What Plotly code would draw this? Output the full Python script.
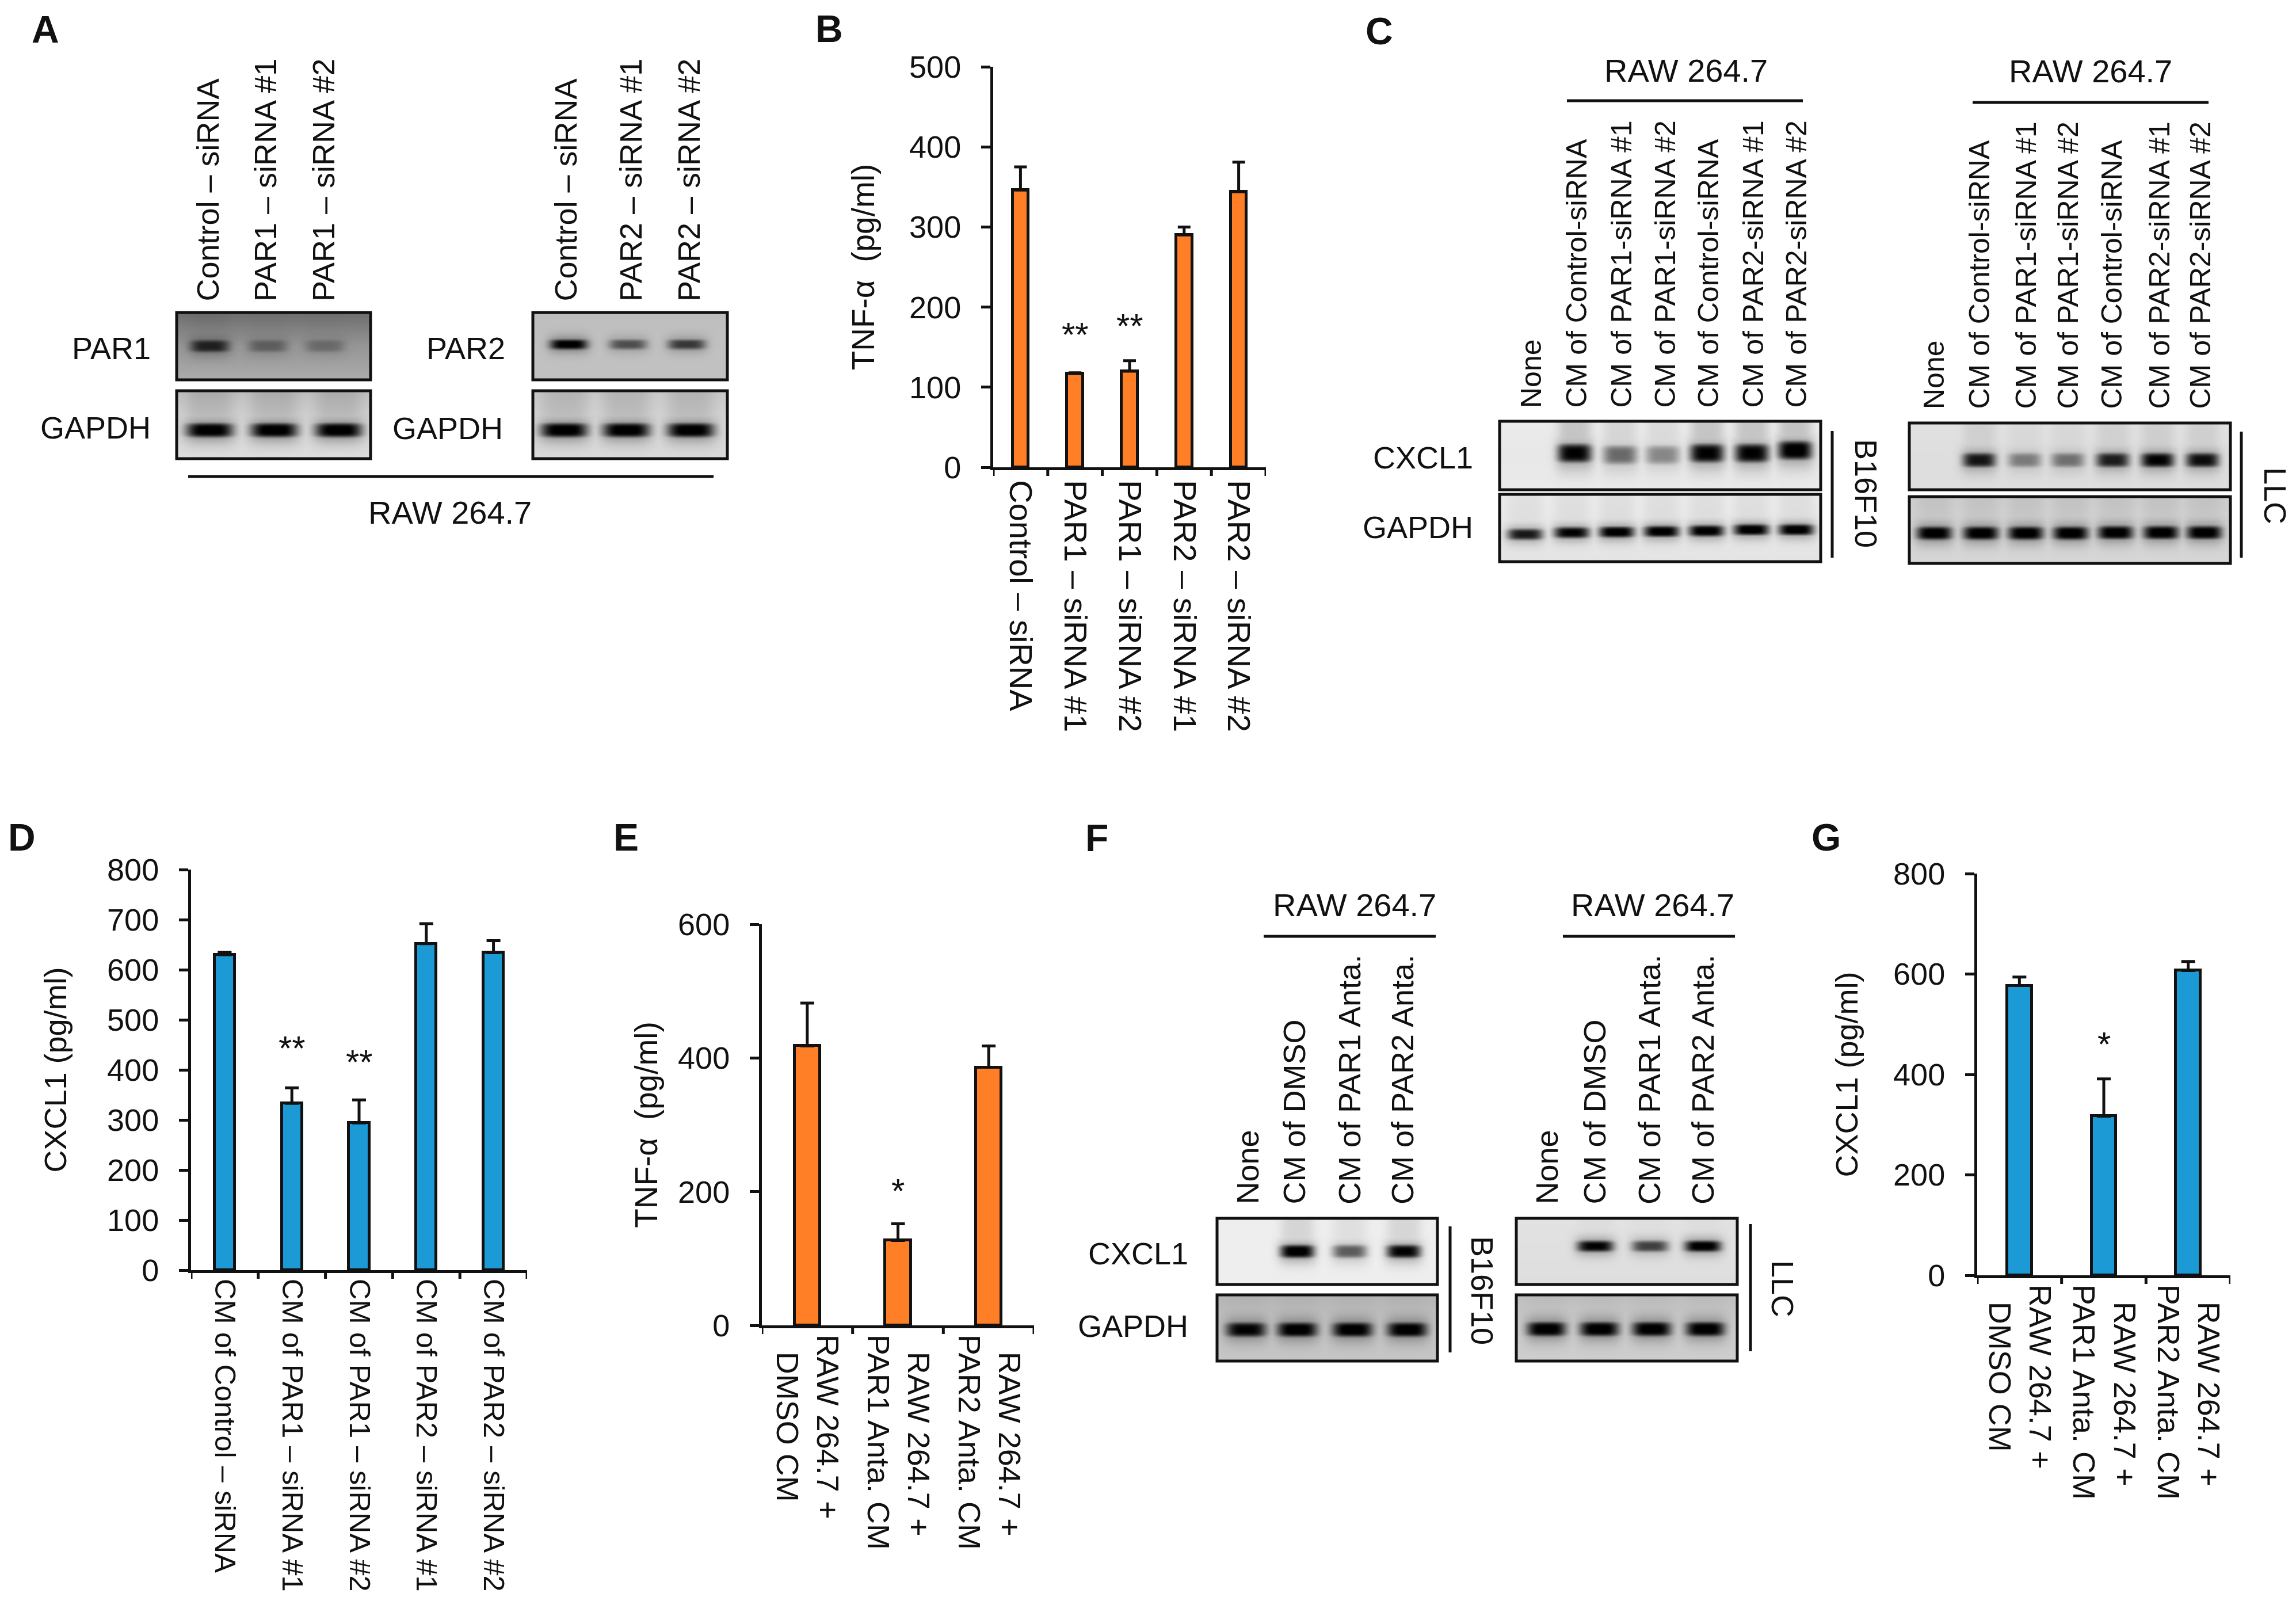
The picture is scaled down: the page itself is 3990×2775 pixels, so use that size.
import plotly.graph_objects as go
from math import exp

W, H = 3990, 2775
FONT = "Liberation Sans"
INK = "#111111"
ORANGE = "#FF7F27"
BLUE = "#1B9AD6"
NB = "\u00a0\u00a0"

# ---------- bar chart data ----------
b_labels = ["Control – siRNA", "PAR1 – siRNA #1", "PAR1 – siRNA #2", "PAR2 – siRNA #1", "PAR2 – siRNA #2"]
b_values = [346, 117, 120, 290, 344]
b_errors = [29, 1, 13, 10, 37]

d_labels = ["CM of Control – siRNA", "CM of PAR1 – siRNA #1", "CM of PAR1 – siRNA #2", "CM of PAR2 – siRNA #1", "CM of PAR2 – siRNA #2"]
d_values = [630, 333, 294, 652, 634]
d_errors = [5, 31, 46, 40, 24]

e_labels = ["RAW 264.7 +<br>" + NB + "DMSO CM", NB + "RAW 264.7 +<br>PAR1 Anta. CM", NB + "RAW 264.7 +<br>PAR2 Anta. CM"]
e_values = [418, 127, 386]
e_errors = [64, 25, 32]

g_labels = ["RAW 264.7 +<br>" + NB + "DMSO CM", NB + "RAW 264.7 +<br>PAR1 Anta. CM", NB + "RAW 264.7 +<br>PAR2 Anta. CM"]
g_values = [577, 317, 607]
g_errors = [17, 74, 18]

# ---------- gel band intensities, read per lane ----------
a_par1 = [0.80, 0.38, 0.30]
a_par1_gapdh = [1.05, 1.05, 1.05]
a_par2 = [1.05, 0.60, 0.72]
a_par2_gapdh = [1.05, 1.05, 1.05]
c_b16_cxcl1 = [0.0, 1.0, 0.55, 0.42, 1.0, 1.0, 1.05]
c_b16_gapdh = [0.9, 1.0, 1.05, 1.05, 1.05, 1.05, 1.05]
c_llc_cxcl1 = [0.0, 0.92, 0.45, 0.50, 0.88, 1.0, 0.95]
c_llc_gapdh = [1.05, 1.05, 1.05, 1.05, 1.05, 1.05, 1.05]
f_b16_cxcl1 = [0.0, 1.05, 0.62, 1.0]
f_b16_gapdh = [1.0, 1.05, 1.05, 1.05]
f_llc_cxcl1 = [0.0, 1.0, 0.72, 1.05]
f_llc_gapdh = [1.05, 1.05, 1.05, 1.05]

a1_text = ["Control – siRNA", "PAR1 – siRNA #1", "PAR1 – siRNA #2"]
a2_text = ["Control – siRNA", "PAR2 – siRNA #1", "PAR2 – siRNA #2"]
c_text = ["None", "CM of Control-siRNA", "CM of PAR1-siRNA #1", "CM of PAR1-siRNA #2",
          "CM of Control-siRNA", "CM of PAR2-siRNA #1", "CM of PAR2-siRNA #2"]
f_text = ["None", "CM of DMSO", "CM of PAR1 Anta.", "CM of PAR2 Anta."]

# ---------- layout of gels: box, lane positions, band row, band size, background ----------
gels = [
    dict(box=(307, 543, 644, 660), v=a_par1, xs=[364, 465, 564], ys=[601]*3, hw=34, th=11, bg=(110, 150, 172), smear=0.05),
    dict(box=(307, 679, 644, 797), v=a_par1_gapdh, xs=[364, 476, 588], ys=[747]*3, hw=41, th=13, bg=(190, 215, 222), smear=0.10),
    dict(box=(926, 543, 1264, 660), v=a_par2, xs=[988, 1091, 1193], ys=[598]*3, hw=33, th=9, bg=(190, 193, 193), smear=0.0),
    dict(box=(926, 679, 1264, 797), v=a_par2_gapdh, xs=[980, 1088, 1200], ys=[747]*3, hw=41, th=13, bg=(200, 215, 218), smear=0.10),
    dict(box=(2606, 732, 3164, 851), v=c_b16_cxcl1, xs=[2650, 2736, 2815, 2889, 2966, 3044, 3119], ys=[787, 787, 790, 790, 787, 787, 782], hw=30, th=17, bg=(235, 232, 234), smear=0.16),
    dict(box=(2606, 859, 3164, 976), v=c_b16_gapdh, xs=[2650, 2731, 2809, 2887, 2965, 3043, 3121], ys=[928, 925, 924, 923, 922, 920, 920], hw=31, th=10, bg=(235, 232, 228), smear=0.05),
    dict(box=(3318, 735, 3876, 851), v=c_llc_cxcl1, xs=[3361, 3439, 3518, 3593, 3671, 3749, 3827], ys=[799]*7, hw=29, th=13, bg=(225, 222, 222), smear=0.08),
    dict(box=(3318, 863, 3876, 979), v=c_llc_gapdh, xs=[3361, 3442, 3520, 3598, 3676, 3755, 3830], ys=[926, 926, 926, 926, 925, 925, 925], hw=31, th=12, bg=(205, 212, 215), smear=0.05),
    dict(box=(2115, 2117, 2498, 2232), v=f_b16_cxcl1, xs=[2165, 2254, 2345, 2439], ys=[2174]*4, hw=30, th=12, bg=(238, 238, 238), smear=0.10),
    dict(box=(2115, 2250, 2498, 2365), v=f_b16_gapdh, xs=[2165, 2254, 2350, 2445], ys=[2310]*4, hw=35, th=13, bg=(180, 196, 198), smear=0.02),
    dict(box=(2635, 2117, 3019, 2232), v=f_llc_cxcl1, xs=[2687, 2772, 2867, 2959], ys=[2165]*4, hw=32, th=10, bg=(226, 224, 222), smear=0.02),
    dict(box=(2635, 2250, 3019, 2365), v=f_llc_gapdh, xs=[2687, 2779, 2870, 2963], ys=[2309]*4, hw=34, th=13, bg=(190, 204, 206), smear=0.02),
]


def gel_matrix(g):
    x0, y0, x1, y1 = g["box"]
    step = 3
    cols = range(x0, x1 + 1, step)
    rows = range(y0, y1 + 1, step)
    top, mid, bot = g["bg"]
    z = []
    for ypx in rows:
        t = (ypx - y0) / (y1 - y0)
        base = top + (mid - top) * t * 2 if t < 0.5 else mid + (bot - mid) * (t - 0.5) * 2
        row = []
        for xpx in cols:
            dark = 0.0
            for val, xc, yc in zip(g["v"], g["xs"], g["ys"]):
                px = exp(-((xpx - xc) / g["hw"]) ** 4)
                py = exp(-((ypx - yc) / g["th"]) ** 4)
                halo = exp(-((xpx - xc) / (g["hw"] * 1.1)) ** 4) * exp(-((ypx - yc) / (g["th"] * 1.7)) ** 2)
                dark = max(dark, val * px * py, 0.35 * val * halo)
                if ypx < yc and val > 0:
                    dark = max(dark, g["smear"] * val * px)
            row.append(max(0, base * (1 - min(dark, 1))))
        z.append(row)
    return z


fig = go.Figure()

# ---------- gels on a full-figure axis ----------
shapes = []
for g in gels:
    x0, y0, x1, y1 = g["box"]
    fig.add_trace(go.Heatmap(z=gel_matrix(g), x0=x0, dx=3, y0=y0, dy=3, xaxis="x5", yaxis="y5",
                             zmin=0, zmax=255, zsmooth="best", showscale=False, hoverinfo="skip",
                             colorscale=[[0, "#000000"], [1, "#ffffff"]]))
    shapes.append(dict(type="rect", xref="x5", yref="y5", x0=x0, y0=y0, x1=x1, y1=y1,
                       line=dict(color="#111111", width=5), fillcolor="rgba(0,0,0,0)"))


def seg(x0, y0, x1, y1, width=5):
    shapes.append(dict(type="line", xref="x5", yref="y5", x0=x0, y0=y0, x1=x1, y1=y1,
                       line=dict(color="#111111", width=width)))


for s in [(327, 828, 1240, 828), (2723, 175, 3133, 175), (3428, 178, 3838, 178),
          (2196, 1627, 2495, 1627), (2716, 1627, 3015, 1627),
          (3184, 749, 3184, 969), (3895, 750, 3895, 969),
          (2520, 2131, 2520, 2350), (3042, 2127, 3042, 2348)]:
    seg(*s)

# ---------- bar panels ----------
TNF = "TNF-α\u00a0\u00a0(pg/ml)"
panels = [
    dict(n="", box=(1726, 116, 2200, 812), labels=b_labels, v=b_values, e=b_errors, c=ORANGE, ymax=500, dt=100,
         title=TNF, tsize=55, so=44, w=0.29, cap=11, xfont=56, xoff=6),
    dict(n="2", box=(332, 1511, 916, 2207), labels=d_labels, v=d_values, e=d_errors, c=BLUE, ymax=800, dt=100,
         title="CXCL1 (pg/ml)", tsize=54, so=55, w=0.30, cap=12, xfont=50.5, xoff=0),
    dict(n="3", box=(1324, 1606, 1797, 2303), labels=e_labels, v=e_values, e=e_errors, c=ORANGE, ymax=600, dt=200,
         title=TNF, tsize=55, so=19, w=0.28, cap=12, xfont=54, xoff=0),
    dict(n="4", box=(3436, 1518, 3876, 2216), labels=g_labels, v=g_values, e=g_errors, c=BLUE, ymax=800, dt=200,
         title="CXCL1 (pg/ml)", tsize=54, so=46, w=0.29, cap=12, xfont=54, xoff=0),
]

layout_axes = {}
for p in panels:
    x0, y0, x1, y1 = p["box"]
    fig.add_trace(go.Bar(x=list(range(len(p["v"]))), y=p["v"], width=p["w"],
                         marker=dict(color=p["c"], line=dict(color="#111111", width=5)),
                         error_y=dict(type="data", symmetric=False, array=p["e"], arrayminus=[0]*len(p["e"]),
                                      color="#111111", thickness=5, width=p["cap"]),
                         xaxis="x" + p["n"], yaxis="y" + p["n"], showlegend=False))
    layout_axes["xaxis" + p["n"]] = dict(
        domain=[x0 / W, x1 / W], anchor="y" + p["n"], range=[-0.5, len(p["v"]) - 0.5],
        tickmode="array", tickvals=list(range(len(p["v"]))), ticktext=p["labels"], type="linear",
        tickangle=90, showgrid=False, zeroline=False, showline=True, linecolor="#111111", linewidth=5,
        ticks="", automargin=False, ticklabelstandoff=p["xoff"], tickfont=dict(family=FONT, size=p["xfont"], color=INK))
    layout_axes["yaxis" + p["n"]] = dict(
        domain=[1 - y1 / H, 1 - y0 / H], anchor="x" + p["n"], range=[0, p["ymax"]],
        tickmode="linear", tick0=0, dtick=p["dt"], showgrid=False, zeroline=False, automargin=False,
        showline=True, linecolor="#111111", linewidth=5, ticks="outside", ticklen=16, tickwidth=5,
        tickcolor="#111111", ticklabelstandoff=24, tickfont=dict(family=FONT, size=54, color=INK),
        title=dict(text=p["title"], standoff=p["so"], font=dict(family=FONT, size=p["tsize"], color=INK)))
    # category boundary ticks along the baseline
    for i in range(len(p["v"]) + 1):
        shapes.append(dict(type="line", xref="x" + p["n"], yref="y" + p["n"] + " domain",
                           x0=i - 0.5, x1=i - 0.5, y0=0, y1=-15 / (y1 - y0),
                           line=dict(color="#111111", width=5)))

annotations = []


def label(x, y, text, size=54, angle=0, xa="center", ya="middle", bold=False):
    annotations.append(dict(x=x / W, y=1 - y / H, xref="paper", yref="paper", text=text, showarrow=False,
                            textangle=angle, xanchor=xa, yanchor=ya,
                            font=dict(family=FONT, size=size, color=INK, weight="bold" if bold else "normal")))


# significance marks, in the data coordinates of their bars
for xr, yr, xv, yv, txt in [("x", "y", 1, 172, "**"), ("x", "y", 2, 183, "**"),
                            ("x2", "y2", 1, 454, "**"), ("x2", "y2", 2, 426, "**"),
                            ("x3", "y3", 1, 209, "*"), ("x4", "y4", 1, 471, "*")]:
    annotations.append(dict(x=xv, y=yv, xref=xr, yref=yr, text=txt, showarrow=False, yshift=-9,
                            font=dict(family=FONT, size=60, color=INK)))

# panel letters
for letter, x, y in [("A", 79, 51), ("B", 1441, 50), ("C", 2397, 54), ("D", 38, 1455),
                     ("E", 1088, 1455), ("F", 1906, 1456), ("G", 3173, 1455)]:
    label(x, y, letter, size=66, bold=True)

# panel A text
for x, t in zip([360, 461, 562], a1_text):
    label(x, 526, t, angle=-90, ya="bottom")
for x, t in zip([982, 1096, 1197], a2_text):
    label(x, 526, t, angle=-90, ya="bottom")
label(264, 605, "PAR1", xa="right")
label(264, 743, "GAPDH", xa="right")
label(880, 605, "PAR2", xa="right")
label(876, 744, "GAPDH", xa="right")
label(782, 890, "RAW 264.7", size=56)

# panel C text
for x, t in zip([2661, 2739, 2817, 2893, 2968, 3046, 3121], c_text):
    label(x, 711, t, size=50, angle=-90, ya="bottom")
for x, t in zip([3361, 3439, 3520, 3593, 3669, 3752, 3823], c_text):
    label(x, 713, t, size=50, angle=-90, ya="bottom")
label(2930, 123, "RAW 264.7", size=56)
label(3633, 124, "RAW 264.7", size=56)
label(2562, 795, "CXCL1", xa="right")
label(2562, 916, "GAPDH", xa="right")
label(3243, 857, "B16F10", angle=90)
label(3954, 861, "LLC", angle=90)

# panel F text
for x, t in zip([2167, 2248, 2345, 2437], f_text):
    label(x, 2095, t, angle=-90, ya="bottom")
for x, t in zip([2687, 2770, 2866, 2959], f_text):
    label(x, 2095, t, angle=-90, ya="bottom")
label(2354, 1572, "RAW 264.7", size=56)
label(2872, 1572, "RAW 264.7", size=56)
label(2067, 2178, "CXCL1", xa="right")
label(2067, 2304, "GAPDH", xa="right")
label(2576, 2242, "B16F10", angle=90)
label(3098, 2239, "LLC", angle=90)

fig.update_layout(
    width=W, height=H, margin=dict(l=0, r=0, t=0, b=0, autoexpand=False), paper_bgcolor="white", plot_bgcolor="rgba(0,0,0,0)",
    showlegend=False, bargap=0, shapes=shapes, annotations=annotations,
    font=dict(family=FONT, color=INK),
    xaxis5=dict(domain=[0, 1], range=[0, W], visible=False, anchor="y5", fixedrange=True, automargin=False),
    yaxis5=dict(domain=[0, 1], range=[H, 0], visible=False, anchor="x5", fixedrange=True, automargin=False),
    **layout_axes,
)

fig.write_html("out.html", post_script="document.body.style.margin='0';", config={"displayModeBar": False})
